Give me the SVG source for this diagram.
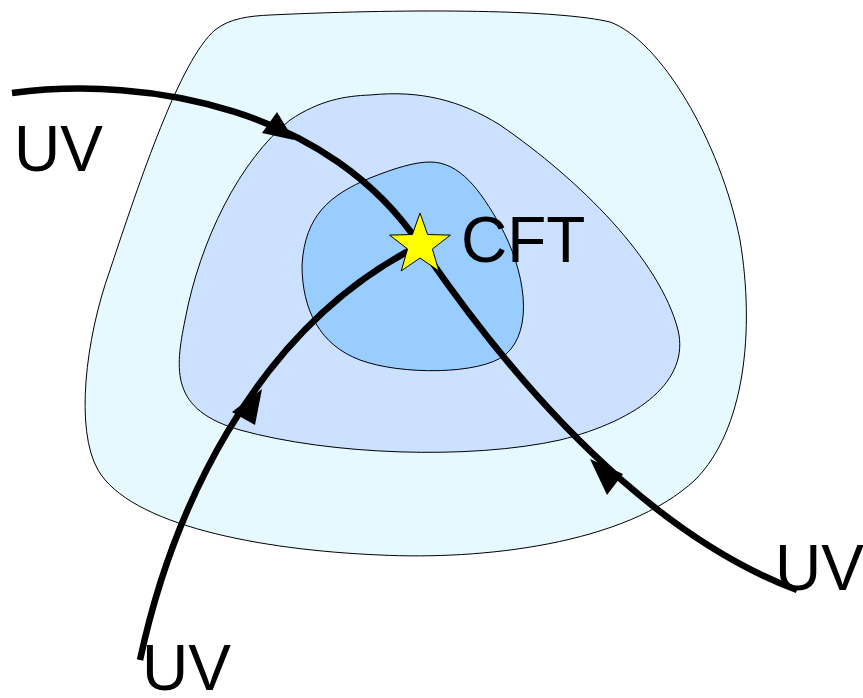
<svg xmlns="http://www.w3.org/2000/svg" width="863" height="698" viewBox="0 0 863 698">
<style>
.region{stroke:#000;stroke-width:1}
.flow{fill:none;stroke:#000;stroke-width:6.5;stroke-linecap:butt}
.head{fill:#000;stroke:none}
.lbl{font-family:"Liberation Sans",Arial,sans-serif;font-size:64px;fill:#000}
</style>
<rect width="863" height="698" fill="#fff"/>
<g id="outer"><path class="region" fill="#e6f9fe" d="M 270,15 C 420,8 560,10 610,22 C 660,40 720,140 740,240 C 755,330 745,430 695,480 C 625,545 480,560 380,555 C 260,550 130,525 98,470 C 75,430 85,340 110,270 C 140,180 180,60 215,30 C 230,18 250,16 270,15 Z"/></g>
<g id="middle"><path class="region" fill="#cce0ff" d="M 370,95 C 420,90 460,100 500,125 C 580,180 660,260 678,330 C 690,380 640,420 560,440 C 470,460 330,455 240,430 C 170,410 175,370 185,320 C 200,240 240,160 290,120 C 320,100 345,96 370,95 Z"/></g>
<g id="inner"><path class="region" fill="#99ccff" d="M 430,162 C 460,162 480,190 500,225 C 525,270 535,330 505,355 C 480,375 400,375 360,360 C 320,345 302,310 302,265 C 305,215 330,195 370,178 C 395,168 415,162 430,162 Z"/></g>
<g id="connectors">
<path class="flow" d="M 12,93 C 150,75 330,110 420,245"/>
<path class="flow" d="M 140,660 C 170,520 250,330 420,245"/>
<path class="flow" d="M 797,590 C 690,550 560,450 420,245"/>
<polygon class="head" points="294,140 262,133 277,112"/>
<polygon class="head" points="262,389 255,425 232,412"/>
<polygon class="head" points="590,459 623,474 607,495"/>
</g>
<g id="cft"><polygon fill="#ffff00" stroke="#000" stroke-width="1" points="420,213 427.6,234.5 450.4,235.1 432.4,249 438.8,270.9 420,258 401.2,270.9 407.6,249 389.6,235.1 412.4,234.5"/>
<text class="lbl" x="461" y="262">CFT</text></g>
<g id="uv1"><text class="lbl" x="14" y="171">UV</text></g>
<g id="uv2"><text class="lbl" x="775" y="590">UV</text></g>
<g id="uv3"><text class="lbl" x="142" y="690">UV</text></g>
</svg>
